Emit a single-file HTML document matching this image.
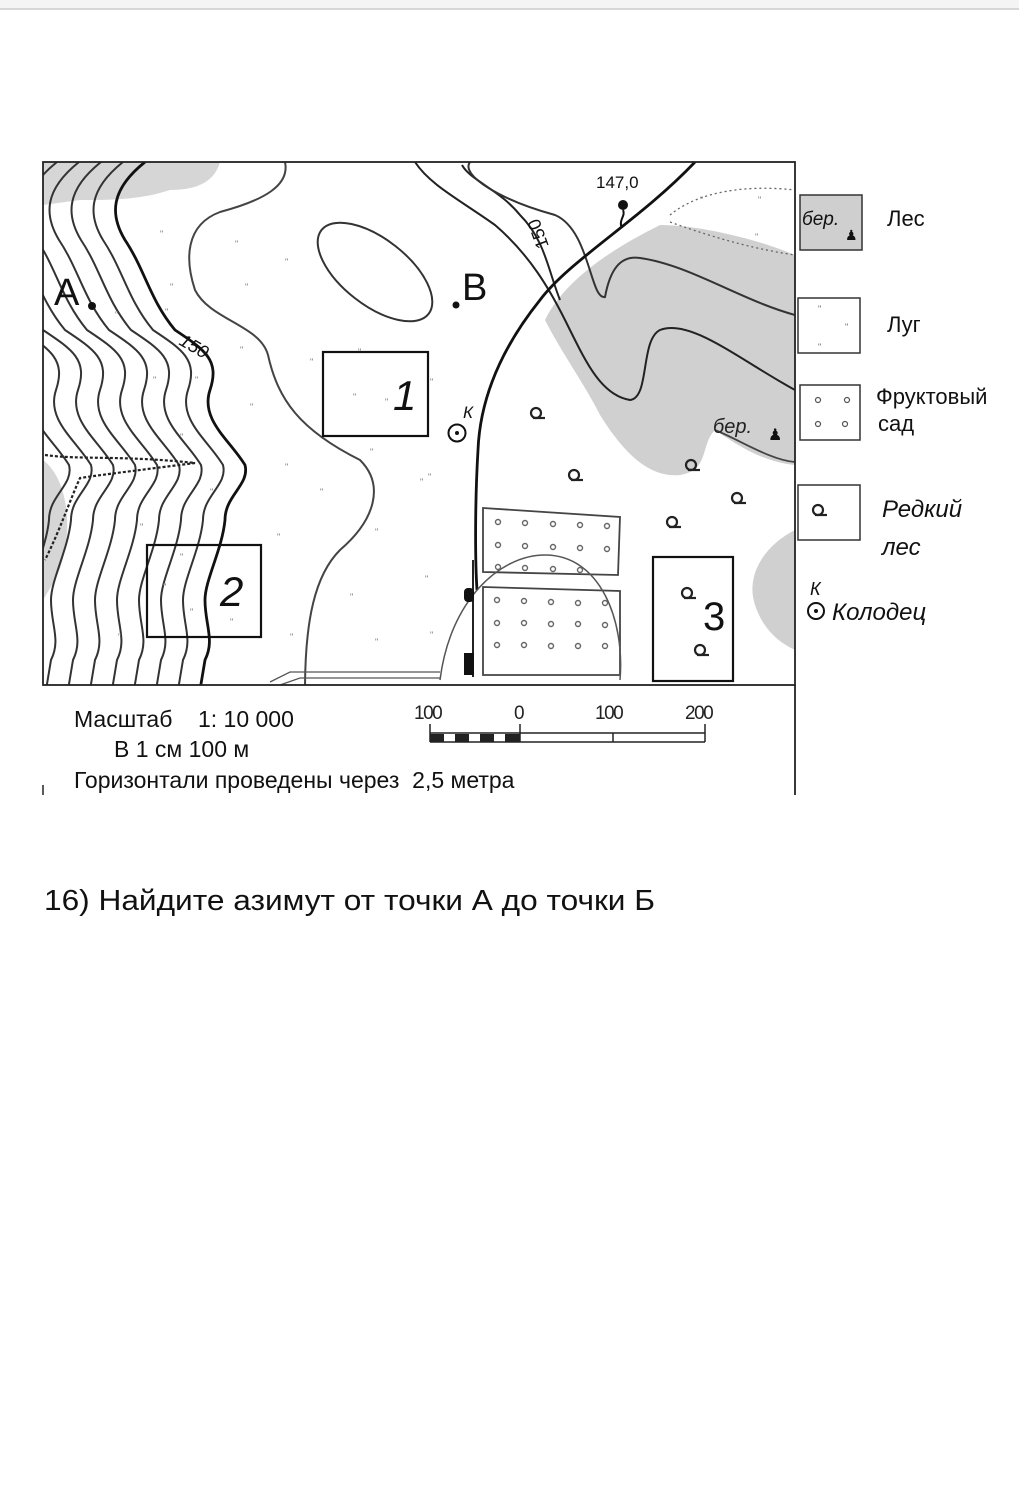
<!DOCTYPE html>
<html><head><meta charset="utf-8"><style>
body{margin:0;background:#fff;}
svg{display:block;}
text{font-family:"Liberation Sans",sans-serif;}
</style></head><body>
<svg width="1019" height="1507" viewBox="0 0 1019 1507" xmlns="http://www.w3.org/2000/svg">
<rect x="0" y="0" width="1019" height="9" fill="#f4f4f4"/>
<line x1="0" y1="9" x2="1019" y2="9" stroke="#ccc" stroke-width="1.5"/>
<defs>
<clipPath id="m"><rect x="43" y="162" width="752" height="523"/></clipPath>
<path id="c" d="M145,162 C110,190 110,215 125,240 C145,270 150,300 175,330 C205,350 220,360 210,390 C200,420 230,440 245,465 C250,485 225,495 225,520 C222,550 205,580 205,600 C205,625 215,640 205,660 L200,690" fill="none"/>
<g id="q"><circle cx="0" cy="0" r="5" fill="none" stroke="#222" stroke-width="2.2"/><path d="M-3,5 L9,5" stroke="#222" stroke-width="2.2"/></g>
</defs>
<g clip-path="url(#m)">
<path d="M43,162 L220,162 C215,180 200,190 170,190 C140,200 110,200 80,200 L43,205 Z" fill="#d6d6d6"/>
<path d="M43,460 C70,480 75,540 55,580 L43,600 Z" fill="#d6d6d6"/>
<path d="M660,225 C700,225 760,240 795,255 L795,465 C760,462 730,440 715,430 C700,445 710,470 680,475 C650,478 625,455 600,415 C585,385 560,350 545,320 C565,280 610,250 660,225 Z" fill="#d0d0d0"/>
<path d="M795,530 C765,545 745,575 755,605 C765,635 785,645 795,650 Z" fill="#d0d0d0"/>
<g stroke="#333" stroke-width="2">
<use href="#c" transform="translate(-22,0)"/>
<use href="#c" transform="translate(-44,0)"/>
<use href="#c" transform="translate(-66,0)"/>
<use href="#c" transform="translate(-88,0)"/>
<use href="#c" transform="translate(-110,0)"/>
<use href="#c" transform="translate(-132,0)"/>
<use href="#c" transform="translate(-154,0)"/>
<use href="#c" transform="translate(-176,0)"/>
</g>
<use href="#c" stroke="#111" stroke-width="2.8"/>
<path d="M45,455 C80,460 120,455 195,463 C140,470 100,475 80,478 C70,500 60,530 45,560" fill="none" stroke="#222" stroke-width="2.2" stroke-dasharray="3,2"/>
<path d="M285,162 C290,185 265,200 220,212 C185,225 185,260 195,290 C210,320 260,325 268,355 C278,400 300,430 360,460 C385,485 375,520 340,550 C315,575 305,620 305,690" fill="none" stroke="#444" stroke-width="2"/>
<ellipse cx="375" cy="272" rx="68" ry="33" transform="rotate(38 375 272)" fill="none" stroke="#333" stroke-width="2"/>
<path d="M415,162 C430,185 460,200 495,225 C530,255 550,290 565,320 C585,360 600,395 630,400 C650,398 640,340 660,330 C690,318 740,360 795,390" fill="none" stroke="#222" stroke-width="2"/>
<path d="M462,165 C470,180 500,190 520,215 C545,240 548,270 560,300" fill="none" stroke="#222" stroke-width="2"/>
<path d="M470,162 C460,175 500,200 555,215 C590,230 590,300 605,297 C610,270 620,255 640,258 C690,265 740,300 795,315" fill="none" stroke="#333" stroke-width="2"/>
<path d="M715,430 C740,440 770,460 795,462" fill="none" stroke="#444" stroke-width="1.8"/>
<path d="M670,215 C700,190 750,185 795,190" fill="none" stroke="#666" stroke-width="1.3" stroke-dasharray="2,3"/>
<path d="M670,222 C720,240 760,250 795,255" fill="none" stroke="#666" stroke-width="1.3" stroke-dasharray="2,3"/>
<path d="M695,162 C640,220 570,260 540,300 C500,350 480,400 478,450 C475,500 475,560 477,590" fill="none" stroke="#111" stroke-width="2.8"/>
<path d="M483,508 L620,517 L618,575 L483,572 Z" fill="none" stroke="#444" stroke-width="1.8"/>
<path d="M483,587 L620,591 L620,675 L483,675 Z" fill="none" stroke="#444" stroke-width="1.8"/>
<path d="M440,680 C450,600 500,555 545,555 C600,555 625,620 620,680" fill="none" stroke="#555" stroke-width="1.5"/>
<g fill="none" stroke="#666" stroke-width="1.4">
<circle cx="498" cy="522" r="2.5"/><circle cx="525" cy="523" r="2.5"/><circle cx="553" cy="524" r="2.5"/><circle cx="580" cy="525" r="2.5"/><circle cx="607" cy="526" r="2.5"/>
<circle cx="498" cy="545" r="2.5"/><circle cx="525" cy="546" r="2.5"/><circle cx="553" cy="547" r="2.5"/><circle cx="580" cy="548" r="2.5"/><circle cx="607" cy="549" r="2.5"/>
<circle cx="498" cy="567" r="2.5"/><circle cx="525" cy="568" r="2.5"/><circle cx="553" cy="569" r="2.5"/><circle cx="580" cy="570" r="2.5"/>
<circle cx="497" cy="600" r="2.5"/><circle cx="524" cy="601" r="2.5"/><circle cx="551" cy="602" r="2.5"/><circle cx="578" cy="603" r="2.5"/><circle cx="605" cy="603" r="2.5"/>
<circle cx="497" cy="623" r="2.5"/><circle cx="524" cy="623" r="2.5"/><circle cx="551" cy="624" r="2.5"/><circle cx="578" cy="624" r="2.5"/><circle cx="605" cy="625" r="2.5"/>
<circle cx="497" cy="645" r="2.5"/><circle cx="524" cy="645" r="2.5"/><circle cx="551" cy="646" r="2.5"/><circle cx="578" cy="646" r="2.5"/><circle cx="605" cy="646" r="2.5"/>
</g>
<line x1="473" y1="560" x2="473" y2="677" stroke="#222" stroke-width="2"/>
<rect x="464" y="588" width="10" height="14" rx="4" fill="#111"/>
<rect x="464" y="653" width="10" height="22" fill="#111"/>
<path d="M270,682 L290,672 L440,672 M280,685 L300,678 L440,678" fill="none" stroke="#555" stroke-width="1.3"/>
</g>
<rect x="43" y="162" width="752" height="523" fill="none" stroke="#222" stroke-width="1.8"/>
<line x1="795" y1="685" x2="795" y2="795" stroke="#222" stroke-width="1.8"/>
<line x1="43" y1="785" x2="43" y2="795" stroke="#222" stroke-width="1.5"/>
<g font-size="9" fill="#777">
<text x="160" y="237">"</text><text x="235" y="247">"</text><text x="285" y="265">"</text><text x="170" y="290">"</text><text x="245" y="290">"</text><text x="115" y="318">"</text><text x="165" y="315">"</text><text x="205" y="358">"</text><text x="240" y="353">"</text><text x="310" y="365">"</text><text x="153" y="383">"</text><text x="195" y="383">"</text><text x="250" y="410">"</text><text x="180" y="440">"</text><text x="370" y="455">"</text><text x="285" y="470">"</text><text x="420" y="485">"</text><text x="210" y="495">"</text><text x="320" y="495">"</text><text x="140" y="530">"</text><text x="375" y="535">"</text><text x="277" y="540">"</text><text x="425" y="582">"</text><text x="350" y="600">"</text><text x="430" y="638">"</text><text x="290" y="640">"</text><text x="375" y="645">"</text><text x="118" y="640">"</text><text x="180" y="560">"</text><text x="163" y="590">"</text><text x="190" y="615">"</text><text x="230" y="625">"</text><text x="358" y="355">"</text><text x="353" y="400">"</text><text x="385" y="405">"</text><text x="430" y="385">"</text><text x="700" y="203">"</text><text x="758" y="203">"</text><text x="755" y="240">"</text><text x="428" y="480">"</text>
</g>
<use href="#q" x="536" y="413"/><use href="#q" x="574" y="475"/><use href="#q" x="691" y="465"/><use href="#q" x="737" y="498"/><use href="#q" x="672" y="522"/><use href="#q" x="687" y="593"/><use href="#q" x="700" y="650"/>
<g fill="none" stroke="#111" stroke-width="2.2">
<rect x="323" y="352" width="105" height="84"/>
<rect x="147" y="545" width="114" height="92"/>
<rect x="653" y="557" width="80" height="124"/>
</g>
<g font-family="Liberation Serif" font-style="italic" font-size="42" fill="#111">
<text x="393" y="410">1</text><text x="220" y="606">2</text><text x="703" y="630" font-style="normal" font-family="Liberation Sans" font-size="40">3</text>
</g>
<text x="54" y="305" font-size="38" fill="#111">A</text>
<circle cx="92" cy="306" r="4" fill="#111"/>
<text x="462" y="300" font-size="38" fill="#111">B</text>
<circle cx="456" cy="305" r="3.5" fill="#111"/>
<text x="178" y="344" font-size="18" fill="#111" font-style="italic" transform="rotate(30 178 344)">150</text>
<text x="549" y="246" font-size="18" fill="#111" transform="rotate(-110 549 246)">150</text>
<text x="596" y="188" font-size="17" fill="#111">147,0</text>
<circle cx="623" cy="205" r="5" fill="#111"/>
<path d="M623,210 C626,216 618,220 622,228" stroke="#111" stroke-width="2" fill="none"/>
<circle cx="457" cy="433" r="8.5" fill="none" stroke="#111" stroke-width="2"/>
<circle cx="457" cy="433" r="2" fill="#111"/>
<text x="463" y="418" font-size="17" font-style="italic" fill="#111">К</text>
<text x="713" y="433" font-size="20" font-style="italic" font-family="Liberation Serif" fill="#222">бер.</text>
<text x="768" y="440" font-size="16" fill="#111">♟</text>
<rect x="800" y="195" width="62" height="55" fill="#cfcfcf" stroke="#333" stroke-width="1.5"/>
<text x="802" y="225" font-size="19" font-style="italic" font-family="Liberation Serif" fill="#111">бер.</text>
<text x="845" y="240" font-size="14" fill="#111">♟</text>
<text x="887" y="226" font-size="22" fill="#111">Лес</text>
<rect x="798" y="298" width="62" height="55" fill="#fff" stroke="#333" stroke-width="1.5"/>
<g font-size="9" fill="#666"><text x="818" y="312">"</text><text x="845" y="330">"</text><text x="818" y="350">"</text></g>
<text x="887" y="332" font-size="22" fill="#111">Луг</text>
<rect x="800" y="385" width="60" height="55" fill="#fff" stroke="#333" stroke-width="1.5"/>
<g fill="none" stroke="#555" stroke-width="1.2"><circle cx="818" cy="400" r="2.5"/><circle cx="847" cy="400" r="2.5"/><circle cx="818" cy="424" r="2.5"/><circle cx="845" cy="424" r="2.5"/></g>
<text x="876" y="404" font-size="22" fill="#111">Фруктовый</text>
<text x="878" y="431" font-size="22" fill="#111">сад</text>
<rect x="798" y="485" width="62" height="55" fill="#fff" stroke="#333" stroke-width="1.5"/>
<use href="#q" x="818" y="510"/>
<text x="882" y="517" font-size="24" font-style="italic" fill="#111">Редкий</text>
<text x="882" y="555" font-size="24" font-style="italic" fill="#111">лес</text>
<text x="810" y="595" font-size="18" font-style="italic" fill="#111">К</text>
<circle cx="816" cy="611" r="8" fill="none" stroke="#111" stroke-width="2"/>
<circle cx="816" cy="611" r="2" fill="#111"/>
<text x="832" y="620" font-size="24" font-style="italic" fill="#111">Колодец</text>
<text x="74" y="727" font-size="23" fill="#111">Масштаб&#160;&#160;&#160;&#160;1: 10 000</text>
<text x="114" y="757" font-size="23" fill="#111">В 1 см 100 м</text>
<text x="74" y="788" font-size="23" fill="#111">Горизонтали проведены через&#160; 2,5 метра</text>
<g font-size="19" fill="#222" letter-spacing="-1.5">
<text x="414" y="719">100</text><text x="514" y="719">0</text><text x="595" y="719">100</text><text x="685" y="719">200</text>
</g>
<g stroke="#222" stroke-width="1.5">
<line x1="430" y1="733" x2="705" y2="733"/><line x1="430" y1="742" x2="705" y2="742"/>
<line x1="430" y1="724" x2="430" y2="742"/><line x1="520" y1="724" x2="520" y2="742"/><line x1="613" y1="733" x2="613" y2="742"/><line x1="705" y1="724" x2="705" y2="742"/>
</g>
<rect x="430" y="734" width="14" height="8" fill="#222"/><rect x="455" y="734" width="14" height="8" fill="#222"/><rect x="480" y="734" width="14" height="8" fill="#222"/><rect x="505" y="734" width="15" height="8" fill="#222"/>
<text x="44" y="910" font-size="29" fill="#111" textLength="611" lengthAdjust="spacingAndGlyphs">16) Найдите азимут от точки А до точки Б</text>
</svg>
</body></html>
